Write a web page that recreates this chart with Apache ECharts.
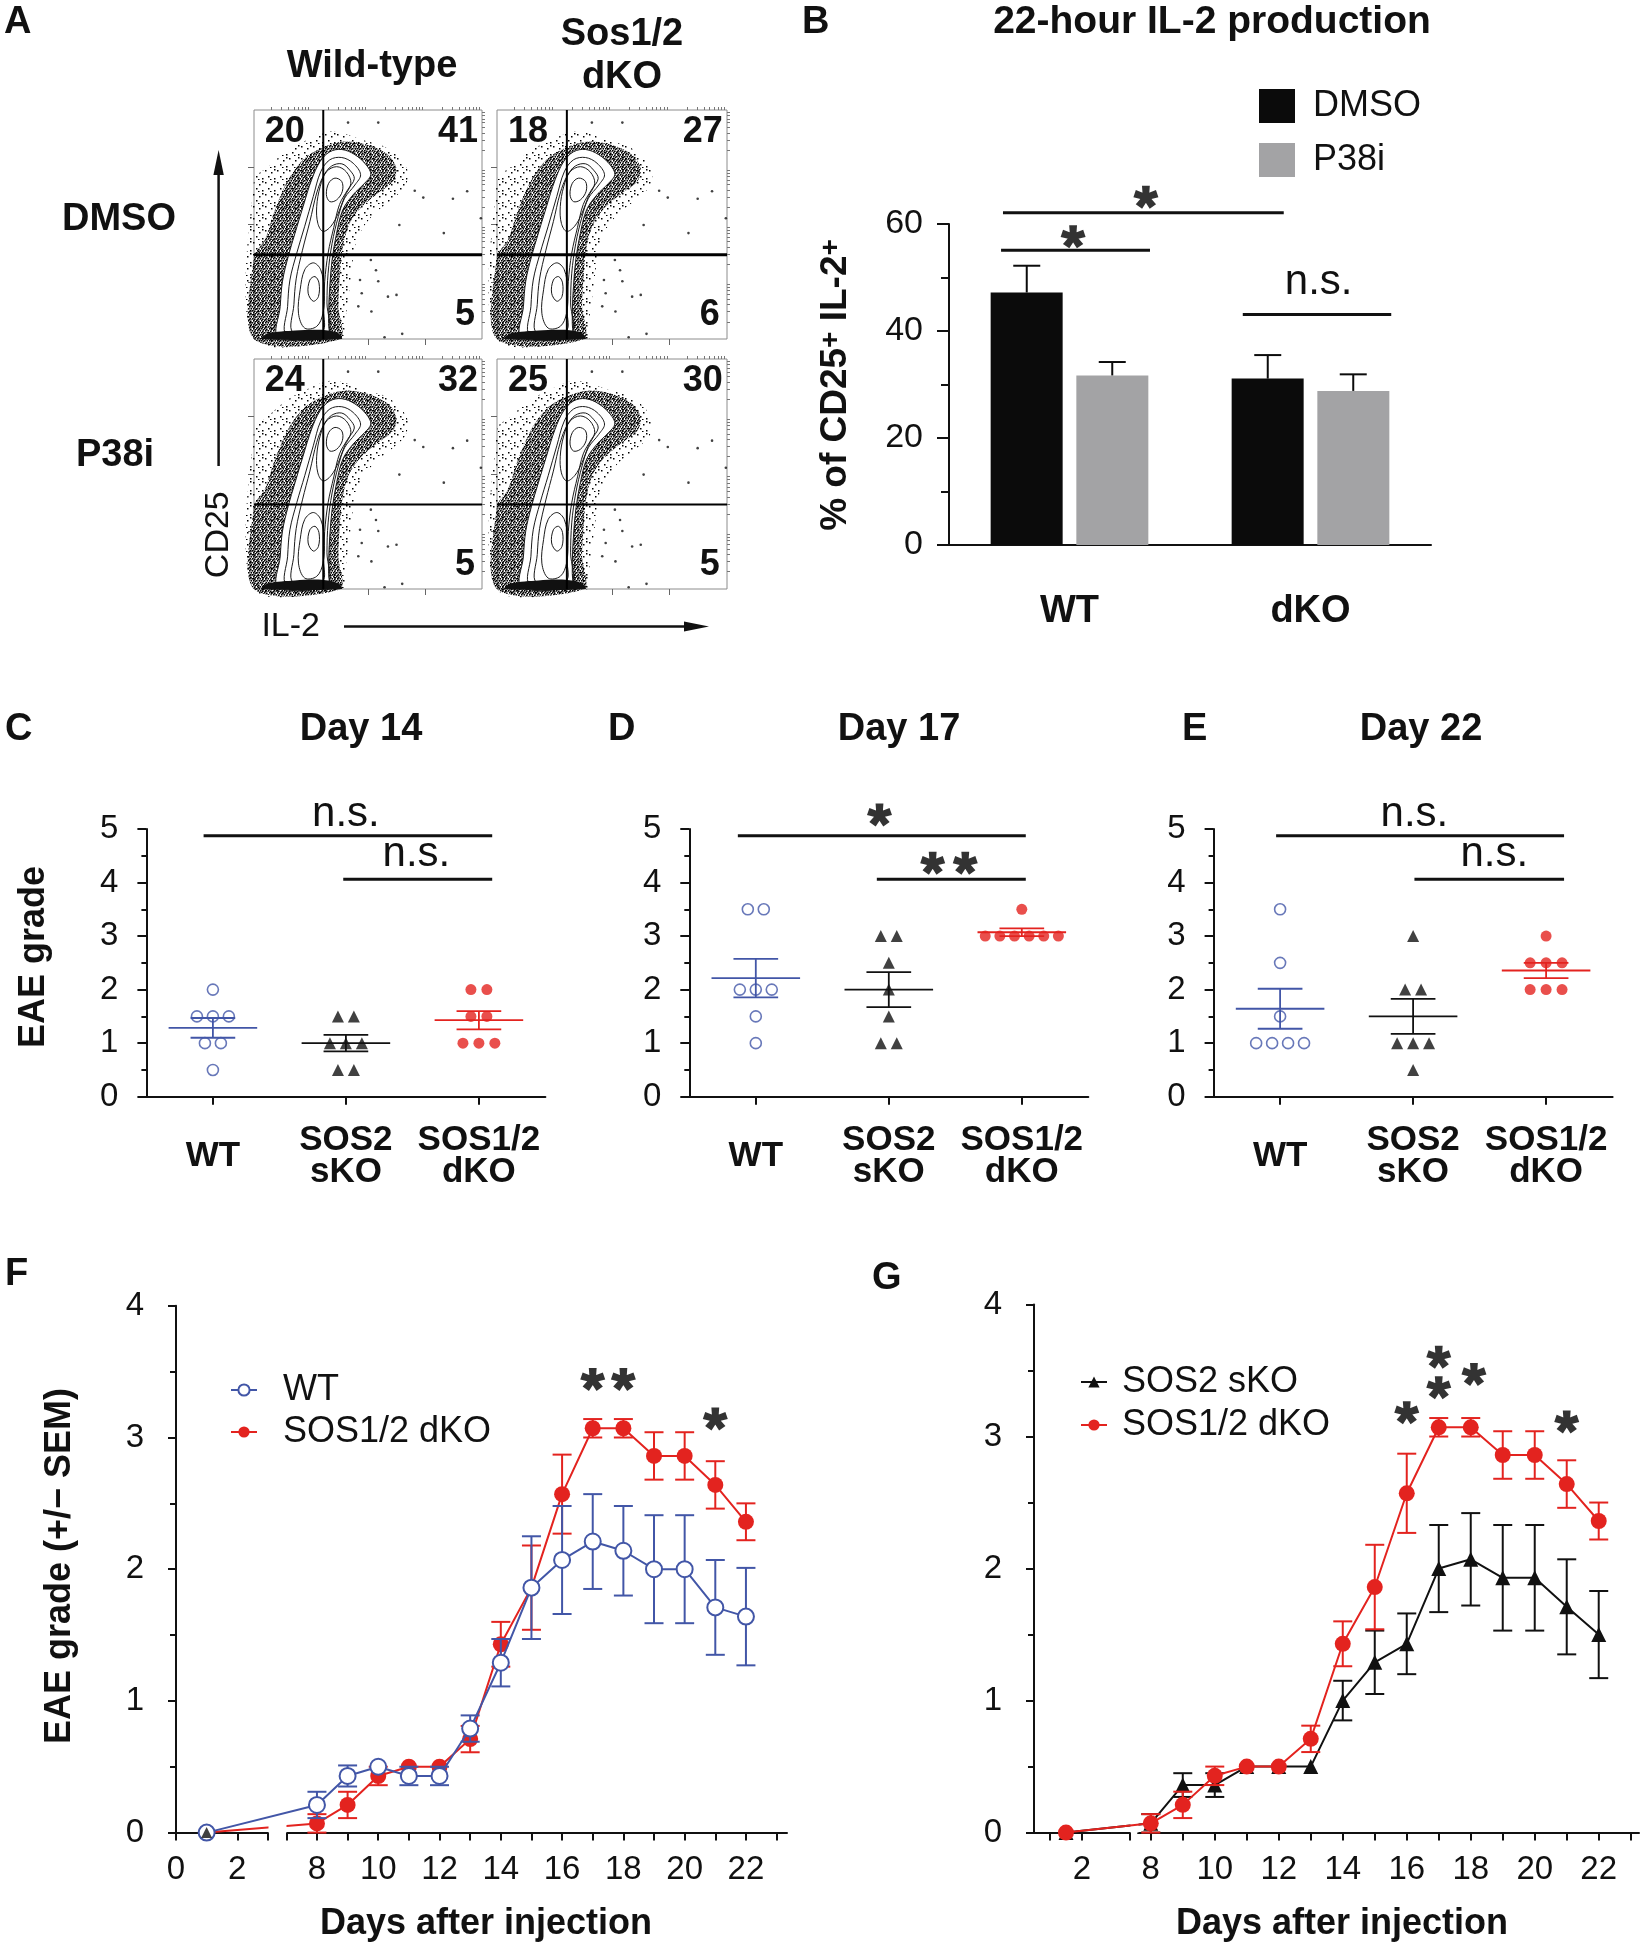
<!DOCTYPE html>
<html>
<head>
<meta charset="utf-8">
<title>Sos1/2 figure</title>
<script src="https://cdn.jsdelivr.net/npm/echarts@6/dist/echarts.min.js"></script>
<style>
html,body{margin:0;padding:0;background:#fff;}
#chart{width:1648px;height:1950px;}
</style>
</head>
<body>
<div id="chart"></div>
<script>
// ======================= DATA =======================
// ---- Panel A: flow cytometry (axes in log decades, 0-4) ----
const flowSamples = ['WT DMSO', 'dKO DMSO', 'WT P38i', 'dKO P38i'];
const flowUpperLeft = [20, 18, 24, 25];
const flowUpperRight = [41, 27, 32, 30];
const flowLowerRight = [5, 6, 5, 5];
const flowGate = [1.215, 1.47];
const flowSparseCloud = [[0,0],[0,2.78],[0.25,3.01],[0.60,3.30],[1.01,3.51],[1.33,3.62],[1.59,3.59],[1.89,3.48],[2.29,3.36],[2.56,3.16],[2.70,2.92],[2.65,2.66],[2.41,2.43],[2.12,2.20],[1.89,1.91],[1.77,1.62],[1.71,1.15],[1.65,0.69],[1.59,0.22],[1.59,0]];
const flowDenseCloud = [[0,0],[0,1.44],[0.19,1.73],[0.37,2.26],[0.60,2.78],[0.89,3.16],[1.24,3.36],[1.59,3.45],[2.00,3.39],[2.35,3.22],[2.50,2.98],[2.44,2.75],[2.18,2.55],[1.89,2.31],[1.68,2.02],[1.56,1.62],[1.51,1.15],[1.48,0.57],[1.51,0]];
const flowFoot = [[0.13,0],[0.25,0.10],[0.72,0.15],[1.19,0.16],[1.48,0.10],[1.54,0]];
const flowOuterContour = [[0.43,0.03],[0.46,0.57],[0.50,1.01],[0.60,1.44],[0.72,1.85],[0.86,2.31],[1.01,2.78],[1.16,3.10],[1.33,3.27],[1.54,3.31],[1.77,3.22],[1.97,3.04],[2.05,2.87],[1.94,2.72],[1.74,2.52],[1.56,2.26],[1.45,1.85],[1.37,1.38],[1.33,0.92],[1.31,0.45],[1.33,0.10],[1.42,0.03]];
const flowInnerContours = [
  [[0.57,0.08],[0.59,0.57],[0.63,1.03],[0.75,1.50],[0.89,1.97],[1.04,2.49],[1.17,2.92],[1.33,3.13],[1.54,3.17],[1.74,3.07],[1.87,2.87],[1.77,2.69],[1.59,2.46],[1.48,2.14],[1.37,1.67],[1.30,1.15],[1.28,0.63],[1.29,0.10]],
  [[0.68,0.12],[0.70,0.60],[0.74,1.05],[0.85,1.55],[0.98,2.05],[1.10,2.55],[1.22,2.85],[1.36,3.02],[1.54,3.06],[1.68,2.95],[1.76,2.80],[1.64,2.60],[1.50,2.35],[1.40,1.95],[1.30,1.50],[1.24,1.00],[1.22,0.50],[1.20,0.14]],
  [[1.10,2.31],[1.16,2.66],[1.27,2.92],[1.45,3.01],[1.62,2.92],[1.70,2.72],[1.59,2.49],[1.48,2.20],[1.35,1.97],[1.21,1.88],[1.12,2.02]],
  [[1.27,2.52],[1.31,2.72],[1.42,2.81],[1.54,2.75],[1.55,2.58],[1.45,2.43],[1.33,2.40]],
  [[0.78,0.45],[0.81,0.86],[0.89,1.21],[1.04,1.33],[1.17,1.21],[1.23,0.86],[1.21,0.45],[1.10,0.22],[0.89,0.19]],
  [[0.95,0.80],[0.98,1.03],[1.07,1.09],[1.14,0.98],[1.13,0.74],[1.04,0.66]]
];
const flowEvents = [[2.18,3.78],[1.65,3.78],[2.82,2.59],[2.97,2.47],[3.49,2.45],[3.74,2.58],[3.98,2.11],[3.33,1.85],[2.55,1.99],[2.05,1.38],[2.14,1.20],[2.18,1.01],[2.35,0.74],[2.06,0.48],[1.83,0.57],[2.29,0.03],[2.60,0.09],[1.89,0.80],[1.86,1.03],[2.50,0.77]];

// ---- Panel B: 22-hour IL-2 production ----
const bCategories = ['WT', 'dKO'];
const bSeriesNames = ['DMSO', 'P38i'];
const bDmso = [47.2, 31.1];
const bDmsoSem = [5.0, 4.4];
const bP38i = [31.7, 28.8];
const bP38iSem = [2.5, 3.1];

// ---- Panels C-E: individual EAE grades ----
const scoreCategories = ['WT', 'SOS2\nsKO', 'SOS1/2\ndKO'];
const day14Wt  = [2, 1.5, 1.5, 1.5, 1, 1, 0.5];
const day14Sko = [1.5, 1.5, 1, 1, 1, 0.5, 0.5];
const day14Dko = [2, 2, 1.5, 1.5, 1, 1, 1];
const day17Wt  = [3.5, 3.5, 2, 2, 2, 1.5, 1];
const day17Sko = [3, 3, 2.5, 2, 1.5, 1, 1];
const day17Dko = [3.5, 3, 3, 3, 3, 3, 3];
const day22Wt  = [3.5, 2.5, 1.5, 1, 1, 1, 1];
const day22Sko = [3, 2, 2, 1, 1, 1, 0.5];
const day22Dko = [3, 2.5, 2.5, 2.5, 2, 2, 2];

// ---- Panels F-G: time courses (mean, SEM) ----
const fDays    = [1, 8, 9, 10, 11, 12, 13, 14, 15, 16, 17, 18, 19, 20, 21, 22];
const fWtMean  = [0, 0.21, 0.43, 0.50, 0.43, 0.43, 0.79, 1.29, 1.86, 2.07, 2.21, 2.14, 2.00, 2.00, 1.71, 1.64];
const fWtSem   = [0, 0.10, 0.08, 0, 0.07, 0.07, 0.10, 0.18, 0.39, 0.41, 0.36, 0.34, 0.41, 0.41, 0.36, 0.37];
const fDkoMean = [0, 0.07, 0.21, 0.43, 0.50, 0.50, 0.71, 1.43, 1.86, 2.57, 3.07, 3.07, 2.86, 2.86, 2.64, 2.36];
const fDkoSem  = [0, 0.07, 0.10, 0.07, 0, 0, 0.10, 0.17, 0.32, 0.30, 0.07, 0.07, 0.18, 0.18, 0.18, 0.14];
const fSko     = [[1, 0]];
const gDays    = [1.5, 8, 9, 10, 11, 12, 13, 14, 15, 16, 17, 18, 19, 20, 21, 22];
const gSkoMean = [0, 0.07, 0.36, 0.36, 0.50, 0.50, 0.50, 1.00, 1.29, 1.43, 2.00, 2.07, 1.93, 1.93, 1.71, 1.50];
const gSkoSem  = [0, 0.07, 0.09, 0.09, 0, 0, 0, 0.15, 0.24, 0.23, 0.33, 0.35, 0.40, 0.40, 0.36, 0.33];
const gDkoMean = [0, 0.07, 0.21, 0.43, 0.50, 0.50, 0.71, 1.43, 1.86, 2.57, 3.07, 3.07, 2.86, 2.86, 2.64, 2.36];
const gDkoSem  = [0, 0.07, 0.10, 0.07, 0, 0, 0.10, 0.17, 0.32, 0.30, 0.07, 0.07, 0.18, 0.18, 0.18, 0.14];
const fTickLabels = [0, 2, 8, 10, 12, 14, 16, 18, 20, 22];
const gTickLabels = [2, 8, 10, 12, 14, 16, 18, 20, 22];
const fTickMarks = [0, 1, 2, 3, 7, 8, 9, 10, 11, 12, 13, 14, 15, 16, 17, 18, 19, 20, 21, 22, 23];
const gTickMarks = [1, 2, 3.5, 8, 9, 10, 11, 12, 13, 14, 15, 16, 17, 18, 19, 20, 21, 22, 23];

// ---- significance annotations: bars [x1, x2, y], marks [text, x, y] ----
const bSigBars = [[-0.276, 0.889, 62.1], [-0.284, 0.334, 55.1], [0.719, 1.335, 43.1]];
const bSigMarks = [['*', 0.317, 65.0], ['*', 0.015, 57.6], ['n.s.', 1.034, 49.1]];
const cSigBars = [[-0.07, 2.1, 4.875], [0.98, 2.1, 4.06]];
const cSigMarks = [['n.s.', 1.0, 5.27], ['n.s.', 1.53, 4.52]];
const dSigBars = [[-0.135, 2.03, 4.875], [0.91, 2.03, 4.06]];
const dSigMarks = [['*', 0.93, 5.26], ['*', 1.33, 4.36], ['*', 1.575, 4.36]];
const eSigBars = [[-0.03, 2.135, 4.875], [1.01, 2.135, 4.06]];
const eSigMarks = [['n.s.', 1.01, 5.27], ['n.s.', 1.61, 4.52]];
const fStars = [[17, 3.44], [18, 3.44], [21, 3.14]];
const gStars = [[16, 3.18], [17, 3.60], [17, 3.37], [18.1, 3.47], [21, 3.11]];

// ======================= STYLE / LAYOUT =======================
const FONT = '"Liberation Sans", Arial, Helvetica, sans-serif';
const INK = '#111';
const BLUE = '#4256a7';
const RED = '#e3231f';
const BAR_BLACK = '#0b0b0b';
const BAR_GREY = '#a3a3a5';

const grids = [], xAxes = [], yAxes = [], series = [], graphics = [];
function addGrid(g) { grids.push(Object.assign({ containLabel: false, outerBoundsMode: 'none' }, g)); return grids.length - 1; }
function addX(a) { xAxes.push(a); return xAxes.length - 1; }
function addY(a) { yAxes.push(a); return yAxes.length - 1; }

function starPath() {
  const angles = [90, 18, 162, 234, 306];
  const L = 1, w = 0.3, back = 0.3;
  let d = '';
  angles.forEach(a => {
    const t = a * Math.PI / 180;
    const dx = Math.cos(t), dy = -Math.sin(t);
    const nx = -dy, ny = dx;
    const pts = [
      [-dx * back + nx * w * 0.8, -dy * back + ny * w * 0.8],
      [dx * L + nx * w * 1.1, dy * L + ny * w * 1.1],
      [dx * L - nx * w * 1.1, dy * L - ny * w * 1.1],
      [-dx * back - nx * w * 0.8, -dy * back - ny * w * 0.8]
    ];
    d += 'M' + pts.map(p => p[0].toFixed(3) + ' ' + p[1].toFixed(3)).join(' L') + ' Z ';
  });
  return 'path://' + d;
}
const STAR = starPath();

function makePattern(size, dots, dot) {
  const c = document.createElement('canvas');
  c.width = size; c.height = size;
  const ctx = c.getContext('2d');
  ctx.fillStyle = '#000';
  dots.forEach(p => ctx.fillRect(p[0], p[1], dot, dot));
  return { image: c, repeat: 'repeat' };
}
const densePattern = makePattern(8, [[0,0],[2,0.5],[5,0],[7,1],[1,2],[3.5,2],[6,2.5],[0,4],[2.5,4],[5,4],[7,4.5],[1.5,6],[4,6],[6,6.5],[3,7.5],[0.5,7]], 1.6);
const sparsePattern = makePattern(12, [[1,2],[7,4],[4,8],[10,10],[6,11],[10,1]], 1.5);

function txtStyle(text, size, bold, align, extra) {
  return Object.assign({
    text: text, fontSize: size, fontWeight: bold ? 'bold' : 'normal', fontFamily: FONT, fill: INK,
    align: align || 'center', verticalAlign: 'middle', textAlign: align || 'center', textVerticalAlign: 'middle'
  }, extra || {});
}
function gText(x, y, text, size, bold, align, rotation, extra) {
  const el = { type: 'text', x: x, y: y, style: txtStyle(text, size, bold, align, extra), silent: true };
  if (rotation) el.rotation = rotation;
  graphics.push(el);
}

function polySeries(xi, yi, pts, style, z, smooth) {
  series.push({
    type: 'custom', xAxisIndex: xi, yAxisIndex: yi, data: [[0, 0]], silent: true, z: z, clip: false,
    renderItem: function (p, api) {
      return { type: 'polygon', shape: { points: pts.map(q => api.coord(q)), smooth: smooth }, style: style };
    }
  });
}

function errSeries(xi, yi, data, color, capHalf, lw, upOnly, offset, z) {
  series.push({
    type: 'custom', xAxisIndex: xi, yAxisIndex: yi, data: data, silent: true, z: z, clip: false,
    renderItem: function (p, api) {
      const x = api.value(0), y = api.value(1), e = api.value(2);
      if (!e) return { type: 'group', children: [] };
      const top = api.coord([x, y + e]);
      const bot = api.coord([x, upOnly ? y : y - e]);
      const cx = top[0] + (offset || 0);
      const st = { stroke: color, lineWidth: lw };
      const ch = [
        { type: 'line', shape: { x1: cx, y1: top[1], x2: cx, y2: bot[1] }, style: st },
        { type: 'line', shape: { x1: cx - capHalf, y1: top[1], x2: cx + capHalf, y2: top[1] }, style: st }
      ];
      if (!upOnly) ch.push({ type: 'line', shape: { x1: cx - capHalf, y1: bot[1], x2: cx + capHalf, y2: bot[1] }, style: st });
      return { type: 'group', children: ch };
    }
  });
}

function starSeries(xi, yi, pts) {
  series.push({ type: 'scatter', xAxisIndex: xi, yAxisIndex: yi, data: pts, symbol: STAR, symbolSize: [25, 23],
    itemStyle: { color: '#000' }, silent: true, z: 6, clip: false });
}
function sigSeries(xi, yi, bars, marks) {
  series.push({
    type: 'custom', xAxisIndex: xi, yAxisIndex: yi, data: bars, silent: true, z: 6, clip: false,
    renderItem: function (p, api) {
      const a = api.coord([api.value(0), api.value(2)]);
      const b = api.coord([api.value(1), api.value(2)]);
      return { type: 'line', shape: { x1: a[0], y1: a[1], x2: b[0], y2: b[1] }, style: { stroke: INK, lineWidth: 3 } };
    }
  });
  const stars = marks.filter(m => m[0] === '*').map(m => [m[1], m[2]]);
  if (stars.length) starSeries(xi, yi, stars);
  const texts = marks.filter(m => m[0] !== '*');
  if (texts.length) {
    series.push({
      type: 'custom', xAxisIndex: xi, yAxisIndex: yi, data: texts.map((m, i) => [m[1], m[2], i]), silent: true, z: 6, clip: false,
      renderItem: function (p, api) {
        const c = api.coord([api.value(0), api.value(1)]);
        return { type: 'text', x: c[0], y: c[1], style: txtStyle(texts[api.value(2)][0], 42, false) };
      }
    });
  }
}

function textSeries(xi, yi, items, size, bold) {
  series.push({
    type: 'custom', xAxisIndex: xi, yAxisIndex: yi, data: items.map((m, i) => [m[1], m[2], i]), silent: true, z: 8, clip: false,
    renderItem: function (p, api) {
      const c = api.coord([api.value(0), api.value(1)]);
      return { type: 'text', x: c[0], y: c[1], style: txtStyle(String(items[api.value(2)][0]), size, bold) };
    }
  });
}

// ======================= PANEL A =======================
const flowBoxes = [[254, 110, 228, 229], [497, 110, 230, 229], [254, 359, 228, 230], [497, 359, 230, 230]];
const flowMajor = [1, 2, 3];
const flowMinor = [];
for (let d = 0; d < 4; d++) for (let k = 2; k <= 9; k++) flowMinor.push(d + Math.log10(k));
const flowLabelPos = { ul: [0.54, 3.62], ur: [3.58, 3.62], lr: [3.70, 0.41] };

flowSamples.forEach((name, i) => {
  const b = flowBoxes[i];
  const gi = addGrid({ left: b[0], top: b[1], width: b[2], height: b[3], show: true, borderColor: '#8c8c8c', borderWidth: 1, backgroundColor: 'transparent' });
  const base = { gridIndex: gi, type: 'value', min: 0, max: 4, axisLine: { show: false, onZero: false }, splitLine: { show: false }, axisLabel: { show: false } };
  const xi = addX(Object.assign({}, base, { axisTick: { show: true, length: 6, customValues: flowMajor, lineStyle: { color: '#666', width: 1 } } }));
  addX(Object.assign({}, base, { axisTick: { show: true, length: 3, customValues: flowMinor, lineStyle: { color: '#777', width: 1 } } }));
  const yi = addY(Object.assign({}, base, { axisTick: { show: true, length: 6, customValues: flowMajor, lineStyle: { color: '#666', width: 1 } } }));
  addY(Object.assign({}, base, { axisTick: { show: true, length: 3, customValues: flowMinor, lineStyle: { color: '#777', width: 1 } } }));

  polySeries(xi, yi, flowSparseCloud, { fill: sparsePattern }, 1, 0.3);
  polySeries(xi, yi, flowDenseCloud, { fill: densePattern }, 1, 0.3);
  polySeries(xi, yi, flowOuterContour, { fill: '#fff', stroke: '#1a1a1a', lineWidth: 1 }, 2, 0.35);
  flowInnerContours.forEach(c => polySeries(xi, yi, c, { fill: 'none', stroke: '#1a1a1a', lineWidth: 1 }, 2, 0.35));
  polySeries(xi, yi, flowFoot, { fill: '#111' }, 2, 0.3);
  series.push({ type: 'scatter', xAxisIndex: xi, yAxisIndex: yi, data: flowEvents, symbol: 'circle', symbolSize: 2.6,
    itemStyle: { color: '#111' }, silent: true, z: 2 });
  const hw = i < 2 ? 3 : 2;
  series.push({
    type: 'custom', xAxisIndex: xi, yAxisIndex: yi, data: [[flowGate[0], flowGate[1]]], silent: true, z: 4,
    renderItem: function (p, api) {
      const gx = api.value(0), gy = api.value(1);
      const v1 = api.coord([gx, 0]), v2 = api.coord([gx, 4]);
      const h1 = api.coord([0, gy]), h2 = api.coord([4, gy]);
      return { type: 'group', children: [
        { type: 'line', shape: { x1: v1[0], y1: v1[1], x2: v2[0], y2: v2[1] }, style: { stroke: '#000', lineWidth: 2 } },
        { type: 'line', shape: { x1: h1[0], y1: h1[1], x2: h2[0], y2: h2[1] }, style: { stroke: '#000', lineWidth: hw } }
      ] };
    }
  });
  textSeries(xi, yi, [
    [flowUpperLeft[i], flowLabelPos.ul[0], flowLabelPos.ul[1]],
    [flowUpperRight[i], flowLabelPos.ur[0], flowLabelPos.ur[1]],
    [flowLowerRight[i], flowLabelPos.lr[0], flowLabelPos.lr[1]]
  ], 36, true);
});

gText(4, 23, 'A', 38, true, 'left');
gText(372, 67, 'Wild-type', 38, true);
gText(622, 35, 'Sos1/2', 38, true);
gText(622, 78, 'dKO', 38, true);
gText(119, 220, 'DMSO', 38, true);
gText(115, 456, 'P38i', 38, true);
gText(218.6, 534.7, 'CD25', 34, false, 'center', Math.PI / 2);
gText(290.7, 626.5, 'IL-2', 34, false);
graphics.push({ type: 'line', shape: { x1: 218.6, y1: 466, x2: 218.6, y2: 170 }, style: { stroke: INK, lineWidth: 2.5 }, silent: true });
graphics.push({ type: 'polygon', shape: { points: [[218.6, 150], [213.4, 175], [223.8, 175]] }, style: { fill: INK }, silent: true });
graphics.push({ type: 'line', shape: { x1: 344, y1: 626.5, x2: 690, y2: 626.5 }, style: { stroke: INK, lineWidth: 2.5 }, silent: true });
graphics.push({ type: 'polygon', shape: { points: [[709, 626.5], [684, 621.5], [684, 631.5]] }, style: { fill: INK }, silent: true });

// ======================= PANEL B =======================
const gB = addGrid({ left: 949, top: 224, width: 482, height: 321 });
const xB = addX({ gridIndex: gB, type: 'category', data: bCategories,
  axisLine: { onZero: false, lineStyle: { color: INK, width: 2 } },
  axisTick: { alignWithLabel: true, length: 10, lineStyle: { color: INK, width: 2 } },
  axisLabel: { fontSize: 38, fontWeight: 'bold', color: INK, fontFamily: FONT, margin: 48 } });
const xBv = addX({ gridIndex: gB, type: 'value', min: -0.5, max: 1.5, show: false, axisLine: { onZero: false } });
const yB = addY({ gridIndex: gB, type: 'value', min: 0, max: 60, interval: 20,
  axisLine: { show: true, onZero: false, lineStyle: { color: INK, width: 2 } },
  axisTick: { show: true, length: 12, lineStyle: { color: INK, width: 2 } },
  minorTick: { show: true, splitNumber: 2, length: 8, lineStyle: { color: INK, width: 2 } },
  axisLabel: { fontSize: 34, color: INK, fontFamily: FONT, margin: 26 },
  splitLine: { show: false }, minorSplitLine: { show: false } });
series.push({ type: 'bar', name: bSeriesNames[0], xAxisIndex: xB, yAxisIndex: yB, data: bDmso, barWidth: 72, barGap: '19%', itemStyle: { color: BAR_BLACK }, z: 2 });
series.push({ type: 'bar', name: bSeriesNames[1], xAxisIndex: xB, yAxisIndex: yB, data: bP38i, barWidth: 72, barGap: '19%', itemStyle: { color: BAR_GREY }, z: 2 });
errSeries(xB, yB, bDmso.map((v, i) => [i, v, bDmsoSem[i]]), BAR_BLACK, 13.5, 2, true, -42.75, 3);
errSeries(xB, yB, bP38i.map((v, i) => [i, v, bP38iSem[i]]), BAR_BLACK, 13.5, 2, true, 42.75, 3);
sigSeries(xBv, yB, bSigBars, bSigMarks);

gText(802, 23, 'B', 38, true, 'left');
gText(1212, 22, '22-hour IL-2 production', 39, true);
gText(836, 385, '% of CD25{s|+} IL-2{s|+}', 37, true, 'center', Math.PI / 2,
  { rich: { s: { fontSize: 28, fontWeight: 'bold', fontFamily: FONT, fill: INK, verticalAlign: 'top', lineHeight: 30 } } });

// ======================= PANELS C-E =======================
function stats(vals) {
  const n = vals.length, m = vals.reduce((a, b) => a + b, 0) / n;
  const sd = Math.sqrt(vals.reduce((a, b) => a + (b - m) * (b - m), 0) / (n - 1));
  return [m, sd / Math.sqrt(n)];
}
function swarm(vals, gx) {
  const counts = {}, seen = {};
  vals.forEach(v => { counts[v] = (counts[v] || 0) + 1; });
  return vals.map(v => {
    const n = counts[v];
    seen[v] = seen[v] === undefined ? 0 : seen[v] + 1;
    const sp = n > 1 ? Math.min(0.12, 0.55 / (n - 1)) : 0;
    return [gx + (seen[v] - (n - 1) / 2) * sp, v];
  });
}
const groupStyles = [
  { symbol: 'circle', size: 11, item: { color: '#fff', borderColor: BLUE, borderWidth: 1.6 }, color: BLUE },
  { symbol: 'triangle', size: 12, item: { color: INK }, color: INK },
  { symbol: 'circle', size: 11, item: { color: RED }, color: RED }
];
function scorePanel(left, groups, bars, marks, tag) {
  const gi = addGrid({ left: left, top: 829, width: 399, height: 267.7 });
  const xi = addX({ gridIndex: gi, type: 'value', min: -0.5, max: 2.5,
    axisLine: { onZero: false, lineStyle: { color: INK, width: 2 } },
    axisTick: { show: true, length: 8, customValues: [0, 1, 2], lineStyle: { color: INK, width: 2 } },
    axisLabel: { customValues: [0, 1, 2], formatter: v => scoreCategories[Math.round(v)], fontSize: 35, fontWeight: 'bold',
      color: INK, fontFamily: FONT, lineHeight: 32, margin: 60, verticalAlign: 'middle' },
    splitLine: { show: false } });
  const yi = addY({ gridIndex: gi, type: 'value', min: 0, max: 5, interval: 1,
    axisLine: { show: true, onZero: false, lineStyle: { color: INK, width: 2 } },
    axisTick: { show: true, length: 9, lineStyle: { color: INK, width: 2 } },
    minorTick: { show: true, splitNumber: 2, length: 5, lineStyle: { color: INK, width: 2 } },
    axisLabel: { fontSize: 33, color: INK, fontFamily: FONT, margin: 28 },
    splitLine: { show: false }, minorSplitLine: { show: false } });
  groups.forEach((vals, g) => {
    const st = groupStyles[g];
    series.push({ type: 'scatter', name: tag + '-' + g, xAxisIndex: xi, yAxisIndex: yi, data: swarm(vals, g),
      symbol: st.symbol, symbolSize: st.size, itemStyle: st.item, z: 2, silent: true });
    const s = stats(vals);
    series.push({
      type: 'custom', xAxisIndex: xi, yAxisIndex: yi, data: [[g, s[0], s[1]]], silent: true, z: 3,
      renderItem: function (p, api) {
        const x = api.value(0), m = api.value(1), e = api.value(2);
        const a = api.coord([x - 0.333, m]), b = api.coord([x + 0.333, m]);
        const t1 = api.coord([x - 0.168, m + e]), t2 = api.coord([x + 0.168, m + e]);
        const b1 = api.coord([x - 0.168, m - e]), b2 = api.coord([x + 0.168, m - e]);
        const ls = { stroke: st.color, lineWidth: 1.8 };
        return { type: 'group', children: [
          { type: 'line', shape: { x1: a[0], y1: a[1], x2: b[0], y2: b[1] }, style: ls },
          { type: 'line', shape: { x1: t1[0], y1: t1[1], x2: t2[0], y2: t2[1] }, style: ls },
          { type: 'line', shape: { x1: b1[0], y1: b1[1], x2: b2[0], y2: b2[1] }, style: ls },
          { type: 'line', shape: { x1: (t1[0] + t2[0]) / 2, y1: t1[1], x2: (b1[0] + b2[0]) / 2, y2: b1[1] }, style: ls }
        ] };
      }
    });
  });
  sigSeries(xi, yi, bars, marks);
}
scorePanel(146.4, [day14Wt, day14Sko, day14Dko], cSigBars, cSigMarks, 'd14');
scorePanel(689.3, [day17Wt, day17Sko, day17Dko], dSigBars, dSigMarks, 'd17');
scorePanel(1213.6, [day22Wt, day22Sko, day22Dko], eSigBars, eSigMarks, 'd22');

gText(5, 730, 'C', 38, true, 'left');
gText(608, 730, 'D', 38, true, 'left');
gText(1182, 730, 'E', 38, true, 'left');
gText(361, 730, 'Day 14', 38, true);
gText(899, 730, 'Day 17', 38, true);
gText(1421, 730, 'Day 22', 38, true);
gText(34, 957, 'EAE grade', 36, true, 'center', Math.PI / 2);

// ======================= PANELS F-G =======================
function timeAxes(gi, min, max, brk, ticks, labels) {
  const breakArea = { show: true, expandOnClick: false, zigzagAmplitude: 0, zigzagZ: 3,
    itemStyle: { color: '#fff', borderColor: '#fff', borderWidth: 0, opacity: 1 } };
  const xi = addX({ gridIndex: gi, type: 'value', min: min, max: max,
    breaks: [brk], breakArea: breakArea,
    axisLine: { onZero: false, lineStyle: { color: INK, width: 2 } },
    axisTick: { show: true, length: 8, customValues: ticks, lineStyle: { color: INK, width: 2 } },
    axisLabel: { customValues: labels, fontSize: 33, color: INK, fontFamily: FONT, margin: 21 },
    splitLine: { show: false } });
  const yi = addY({ gridIndex: gi, type: 'value', min: 0, max: 4, interval: 1,
    axisLine: { show: true, onZero: false, lineStyle: { color: INK, width: 2 } },
    axisTick: { show: true, length: 8, lineStyle: { color: INK, width: 2 } },
    minorTick: { show: true, splitNumber: 2, length: 6, lineStyle: { color: INK, width: 2 } },
    axisLabel: { fontSize: 33, color: INK, fontFamily: FONT, margin: 32 },
    splitLine: { show: false }, minorSplitLine: { show: false } });
  return [xi, yi];
}
function courseSeries(xi, yi, name, days, mean, sem, color, openSymbol, symbol, z) {
  errSeries(xi, yi, days.map((d, i) => [d, mean[i], sem[i]]), color, 9.5, 2, false, 0, z);
  series.push({ type: 'line', name: name, xAxisIndex: xi, yAxisIndex: yi, data: days.map((d, i) => [d, mean[i]]),
    symbol: symbol, symbolSize: symbol === 'triangle' ? 15 : 16, showAllSymbol: true,
    itemStyle: openSymbol ? { color: '#fff', borderColor: color, borderWidth: 2 } : { color: color, borderWidth: 0 },
    lineStyle: { color: color, width: 2 }, z: z, silent: true, clip: false });
}

const gF = addGrid({ left: 176, top: 1305.8, width: 611, height: 526.8 });
const [xF, yF] = timeAxes(gF, 0, 23.34, { start: 3, end: 7, gap: 0.6 }, fTickMarks, fTickLabels);
courseSeries(xF, yF, 'SOS1/2 dKO', fDays, fDkoMean, fDkoSem, RED, false, 'circle', 2);
courseSeries(xF, yF, 'WT', fDays, fWtMean, fWtSem, BLUE, true, 'circle', 3);
series.push({ type: 'scatter', xAxisIndex: xF, yAxisIndex: yF, data: fSko, symbol: 'triangle', symbolSize: 11, itemStyle: { color: INK }, z: 4, silent: true });
starSeries(xF, yF, fStars);

const gG = addGrid({ left: 1034, top: 1304.5, width: 604.4, height: 528.1 });
const [xG, yG] = timeAxes(gG, 0.5, 23.24, { start: 3.5, end: 7.6, gap: 0.25 }, gTickMarks, gTickLabels);
courseSeries(xG, yG, 'SOS2 sKO', gDays, gSkoMean, gSkoSem, INK, false, 'triangle', 2);
courseSeries(xG, yG, 'SOS1/2 dKO', gDays, gDkoMean, gDkoSem, RED, false, 'circle', 3);
starSeries(xG, yG, gStars);

gText(5, 1274.5, 'F', 38, true, 'left');
gText(872, 1279, 'G', 38, true, 'left');
gText(60, 1566, 'EAE grade (+/\u2212 SEM)', 36, true, 'center', Math.PI / 2);
gText(486, 1924, 'Days after injection', 36, true);
gText(1342, 1924, 'Days after injection', 36, true);

// ======================= LEGENDS =======================
const legendText = { fontSize: 36, fontFamily: FONT, color: INK, lineHeight: 40 };
const legends = [
  { data: bSeriesNames, left: 1259, top: 86, orient: 'vertical', padding: 0, icon: 'rect', itemWidth: 36, itemHeight: 34, itemGap: 14,
    textStyle: Object.assign({}, legendText, { padding: [0, 0, 0, 13] }), selectedMode: false },
  { data: ['WT', 'SOS1/2 dKO'], left: 230, top: 1370, orient: 'vertical', padding: 0, itemWidth: 26, itemHeight: 14, itemGap: 2,
    textStyle: Object.assign({}, legendText, { padding: [0, 0, 0, 21] }), selectedMode: false },
  { data: ['SOS2 sKO', 'SOS1/2 dKO'], left: 1080, top: 1362, orient: 'vertical', padding: 0, itemWidth: 26, itemHeight: 14, itemGap: 3,
    textStyle: Object.assign({}, legendText, { padding: [0, 0, 0, 10] }), selectedMode: false }
];

// ======================= RENDER =======================
const chart = echarts.init(document.getElementById('chart'), null, { renderer: 'canvas', width: 1648, height: 1950 });
const option = {
  animation: false,
  backgroundColor: '#fff',
  textStyle: { fontFamily: FONT, color: INK },
  grid: grids, xAxis: xAxes, yAxis: yAxes, series: series, legend: legends, graphic: { elements: graphics }
};
try {
  chart.setOption(option);
} catch (err) {
  console.error('break axis failed, fallback', err);
  xAxes.forEach(a => { delete a.breaks; delete a.breakArea; });
  chart.clear();
  chart.setOption(option);
}
</script>
</body>
</html>
